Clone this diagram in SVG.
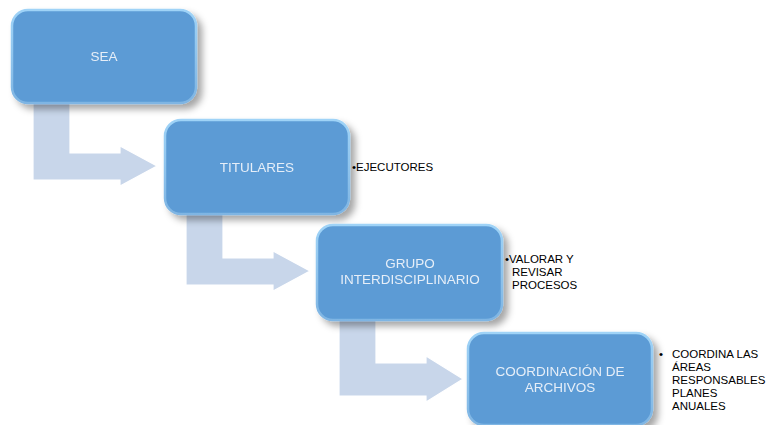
<svg xmlns="http://www.w3.org/2000/svg" width="773" height="425" viewBox="0 0 773 425">
<defs>
<filter id="sh" x="-20%" y="-20%" width="150%" height="160%">
<feGaussianBlur in="SourceAlpha" stdDeviation="3.5"/>
<feOffset dx="5" dy="5" result="b"/>
<feFlood flood-color="#000" flood-opacity="0.35"/>
<feComposite in2="b" operator="in" result="s"/>
<feMerge><feMergeNode in="s"/><feMergeNode in="SourceGraphic"/></feMerge>
</filter>
<linearGradient id="edge" x1="0" y1="0" x2="0" y2="1">
<stop offset="0" stop-color="#9fd3f7"/>
<stop offset="1" stop-color="#7fb5e3"/>
</linearGradient>
</defs>
<style>
.box{fill:#5b9bd5;stroke:url(#edge);stroke-width:2.5}
.lbl{font-family:"Liberation Sans",Arial,sans-serif;font-size:13.5px;fill:#e6eef8;text-anchor:middle}
.side{font-family:"Liberation Sans",Arial,sans-serif;font-size:11.5px;fill:#000}
.arr{fill:#c8d6ea;stroke:#ffffff;stroke-width:1.2}
</style>
<rect width="773" height="425" fill="#ffffff"/>
<g id="connectors">
<polygon class="arr" points="33,100 70,100 70,153 120,153 120,146 157,166 120,186 120,180 33,180"/>
<polygon class="arr" points="186,210 223,210 223,258 273,258 273,251 310,271 273,291 273,285 186,285"/>
<polygon class="arr" points="339,317 376,317 376,363 426,363 426,356 463,379 426,402 426,396 339,396"/>
</g>
<g id="n1" filter="url(#sh)">
<rect class="box" x="12" y="10" width="184" height="93" rx="16"/>
<text class="lbl" x="104" y="61">SEA</text>
</g>
<g id="n2" filter="url(#sh)">
<rect class="box" x="165" y="120" width="184" height="94" rx="16"/>
<text class="lbl" x="257" y="172">TITULARES</text>
</g>
<g id="n3" filter="url(#sh)">
<rect class="box" x="317" y="225" width="185" height="95" rx="16"/>
<text class="lbl" x="410" y="268">GRUPO</text>
<text class="lbl" x="410" y="284">INTERDISCIPLINARIO</text>
</g>
<g id="n4" filter="url(#sh)">
<rect class="box" x="468" y="333" width="184" height="92" rx="16"/>
<text class="lbl" x="560" y="376">COORDINACIÓN DE</text>
<text class="lbl" x="560" y="392">ARCHIVOS</text>
</g>
<g id="notes">
<text class="side" x="352" y="171">•EJECUTORES</text>
<text class="side" x="505" y="263">•VALORAR Y</text>
<text class="side" x="512" y="276">REVISAR</text>
<text class="side" x="512" y="289">PROCESOS</text>
<text class="side" x="659" y="358">•</text>
<text class="side" x="672" y="358">COORDINA LAS</text>
<text class="side" x="672" y="371">ÁREAS</text>
<text class="side" x="672" y="384">RESPONSABLES</text>
<text class="side" x="672" y="397">PLANES</text>
<text class="side" x="672" y="410">ANUALES</text>
</g>
</svg>
